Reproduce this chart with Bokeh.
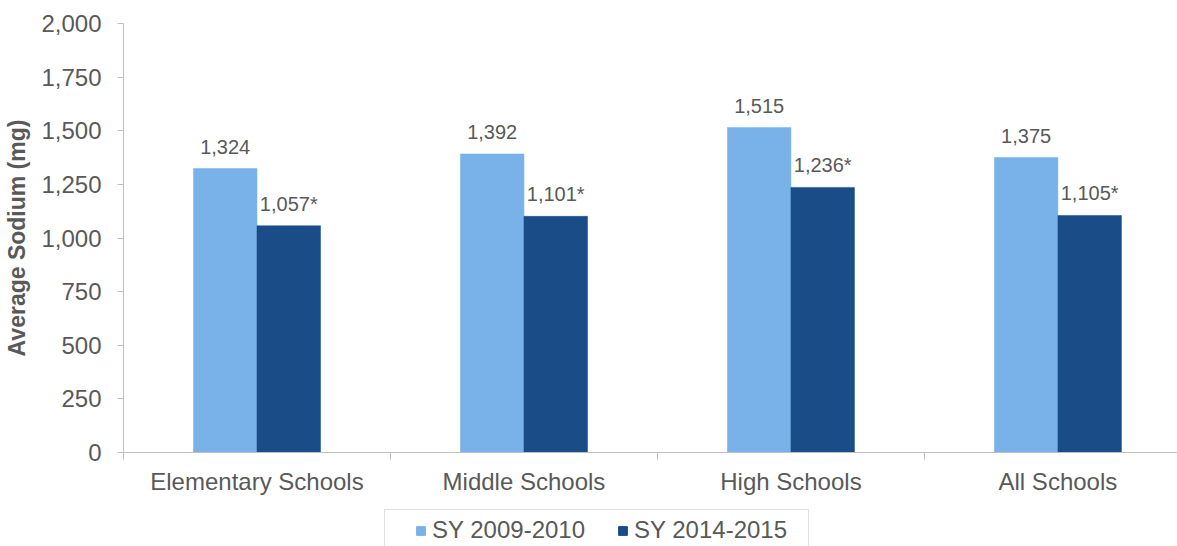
from bokeh.plotting import figure
from bokeh.layouts import column
from bokeh.models import (ColumnDataSource, Range1d, FixedTicker, NumeralTickFormatter,
                          Legend, LegendItem)
from bokeh.transform import dodge
from bokeh.embed import file_html
from bokeh.resources import INLINE
from bokeh.core.properties import value

# --- data -------------------------------------------------------------
categories = ["Elementary Schools", "Middle Schools", "High Schools", "All Schools"]
series_names = ["SY 2009-2010", "SY 2014-2015"]
sy_2009_2010 = [1324, 1392, 1515, 1375]
sy_2014_2015 = [1057, 1101, 1236, 1105]
significant_change = [True, True, True, True]   # marked with "*"
y_ticks = [0, 250, 500, 750, 1000, 1250, 1500, 1750, 2000]

# --- style ------------------------------------------------------------
LIGHT = "#78B2E8"
DARK = "#1A4C87"
TEXT = "#595959"
AXIS = "#C0C0C0"
FONT = "Liberation Sans"
BAR_W = 0.238
WIDTH = 1177

x_centers = [i + 0.5 for i in range(len(categories))]
boundaries = list(range(len(categories) + 1))

src = ColumnDataSource(dict(
    x=x_centers,
    a=sy_2009_2010,
    b=sy_2014_2015,
    a_lbl=[f"{v:,}" for v in sy_2009_2010],
    b_lbl=[f"{v:,}" + ("*" if s else "") for v, s in zip(sy_2014_2015, significant_change)],
))

p = figure(
    frame_width=1054, frame_height=429,
    min_border_left=123, min_border_right=0, min_border_top=23, min_border_bottom=48,
    x_range=Range1d(0, 3.948), y_range=Range1d(0, 2000),
    output_backend="svg", toolbar_location=None,
)
p.outline_line_color = None
p.xgrid.visible = False
p.ygrid.visible = False
p.background_fill_color = "white"
p.border_fill_color = "white"

xa = dodge("x", -BAR_W / 2)
xb = dodge("x", BAR_W / 2)

p.vbar(x=xa, top="a", bottom=0, width=BAR_W, source=src,
       fill_color=LIGHT, line_color=LIGHT, line_width=0.5)
p.vbar(x=xb, top="b", bottom=0, width=BAR_W, source=src,
       fill_color=DARK, line_color=DARK, line_width=0.5)

label_kw = dict(text_align="center", text_baseline="alphabetic", y_offset=-22,
                text_font=value(FONT), text_font_size="20px", text_color=TEXT, source=src)
p.text(x=xa, y="a", text="a_lbl", **label_kw)
p.text(x=xb, y="b", text="b_lbl", **label_kw)

# --- x axis: boundary ticks, category names centred ------------------
xaxis = p.xaxis[0]
xaxis.ticker = FixedTicker(ticks=x_centers, minor_ticks=boundaries)
xaxis.major_label_overrides = {c: name for c, name in zip(x_centers, categories)}
xaxis.major_tick_out = 0
xaxis.major_tick_in = 0
xaxis.minor_tick_out = 7
xaxis.minor_tick_in = 0
xaxis.minor_tick_line_color = AXIS
xaxis.axis_line_color = AXIS
xaxis.major_label_standoff = 8
xaxis.major_label_text_font = FONT
xaxis.major_label_text_font_size = "24px"
xaxis.major_label_text_color = TEXT

# --- y axis ------------------------------------------------------------
yaxis = p.yaxis[0]
yaxis.ticker = FixedTicker(ticks=y_ticks)
yaxis.formatter = NumeralTickFormatter(format="0,0")
yaxis.major_tick_out = 6
yaxis.major_tick_in = 0
yaxis.minor_tick_line_color = None
yaxis.axis_line_color = AXIS
yaxis.major_tick_line_color = AXIS
yaxis.major_label_standoff = 16
yaxis.major_label_text_font = FONT
yaxis.major_label_text_font_size = "24px"
yaxis.major_label_text_color = TEXT
yaxis.axis_label = "Average Sodium (mg)"
yaxis.axis_label_text_font = FONT
yaxis.axis_label_text_font_size = "23px"
yaxis.axis_label_text_font_style = "bold"
yaxis.axis_label_text_color = TEXT
yaxis.axis_label_standoff = 8

# --- legend strip under the chart --------------------------------------
leg = figure(
    width=WIDTH, height=46, min_border=0,
    x_range=Range1d(0, WIDTH), y_range=Range1d(0, 46),
    x_axis_type=None, y_axis_type=None,
    output_backend="svg", toolbar_location=None,
)
leg.outline_line_color = None
leg.xgrid.visible = False
leg.ygrid.visible = False
leg.background_fill_color = "white"
leg.border_fill_color = "white"

# zero-height swatch renderers far outside the view; only their legend glyphs show
swatches = [leg.vbar(x=[-5000], top=[0], bottom=0, width=1, fill_color=c, line_color=c)
            for c in (LIGHT, DARK)]

legend = Legend(
    items=[LegendItem(label=name, renderers=[r]) for name, r in zip(series_names, swatches)],
    orientation="horizontal", location=(261, -5), margin=0, padding=6,
    title=" ", title_location="left", title_text_font_size="1px", title_standoff=23,
    glyph_width=11, glyph_height=11, label_standoff=6, spacing=17,
    label_width=168,
    label_text_font=FONT, label_text_font_size="24px", label_text_color=TEXT,
    border_line_color=AXIS, border_line_width=1.5,
    background_fill_color="white", background_fill_alpha=1,
)
leg.add_layout(legend)

open("out.html", "w").write(file_html(column(p, leg, spacing=0), INLINE))
